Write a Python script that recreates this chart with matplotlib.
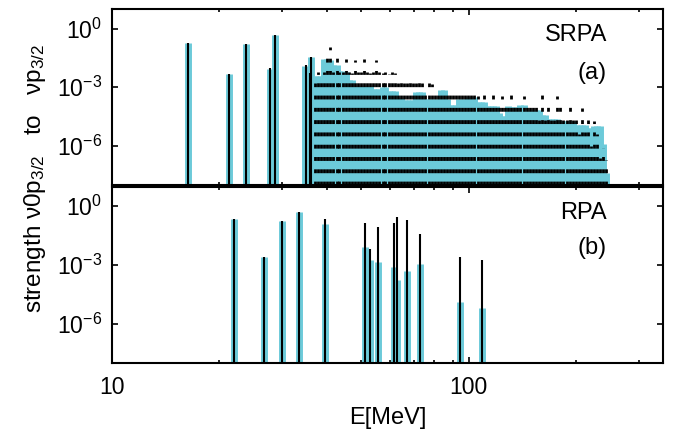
import numpy as np
import matplotlib
matplotlib.use("Agg")
import matplotlib.pyplot as plt
from matplotlib.ticker import FixedLocator, FixedFormatter, NullLocator, NullFormatter

# isolated SRPA states (a): energy [MeV], log10 strength
srpaPeakE = [16.36, 21.3, 23.8, 27.8, 28.7, 34.7, 36.2]
srpaPeakCyan = [-0.73, -2.32, -0.78, -2.05, -0.31, -1.93, -1.47]
srpaLineE = [16.36, 21.3, 23.8, 27.8, 28.7, 34.9, 35.9, 36.2]
srpaLineBlack = [-0.73, -2.32, -0.78, -2.00, -0.31, -1.84, -2.27, -1.47]

# dense SRPA continuum (a)
denseE = [37.0, 37.8, 38.5, 39.3, 40.1, 40.9, 41.7, 42.6, 43.4, 44.3,
          45.2, 46.1, 47.0, 47.9, 48.9, 49.9, 50.9, 51.9, 52.9, 54.0,
          55.0, 56.1, 57.3, 58.4, 59.6, 60.8, 62.0, 63.2, 64.5, 65.8,
          67.1, 68.4, 69.8, 71.2, 72.6, 74.1, 75.6, 77.1, 78.6, 80.2,
          81.8, 83.4, 85.1, 86.8, 88.5, 90.3, 92.1, 93.9, 95.8, 97.7,
          99.7, 101.7, 103.7, 105.8, 107.9, 110.1, 112.3, 114.5, 116.8, 119.1,
          121.5, 123.9, 126.4, 128.9, 131.5, 134.1, 136.8, 139.5, 142.3, 145.2,
          148.1, 151.0, 154.1, 157.1, 160.3, 163.5, 166.8, 170.1, 173.5, 177.0,
          180.5, 184.1, 187.8, 191.6, 195.4, 199.3, 203.3, 207.4, 211.5, 215.8,
          220.1, 224.5, 229.0, 233.6, 238.2, 243.0]
denseCyan = [-2.40, -2.40, -2.40, -1.55, -1.55, -1.60, -1.84, -1.84, -2.18, -2.18,
             -2.20, -2.61, -2.61, -2.95, -2.95, -2.93, -2.95, -2.97, -2.95, -3.08,
             -3.08, -3.08, -3.00, -3.00, -3.20, -3.20, -3.20, -3.54, -3.54, -3.63,
             -3.63, -3.63, -3.63, -3.25, -3.25, -3.25, -3.60, -3.60, -3.60, -3.60,
             -3.60, -3.12, -3.12, -3.60, -3.89, -3.89, -3.89, -3.60, -3.60, -3.60,
             -3.49, -3.49, -3.49, -3.77, -3.77, -3.77, -3.97, -3.97, -3.97, -3.97,
             -4.30, -4.45, -4.45, -3.97, -4.00, -4.00, -4.00, -3.90, -3.90, -4.14,
             -4.14, -4.14, -4.14, -4.14, -4.40, -4.40, -4.62, -4.62, -4.62, -4.62,
             -4.74, -4.74, -4.74, -4.74, -4.74, -4.91, -4.91, -4.91, -4.91, -5.08,
             -5.08, -4.96, -4.96, -4.96, -5.90, -7.40]
denseBlack = [-2.80, -2.20, -2.40, -2.20, -1.30, -0.95, -2.20, -1.50, -2.20, -2.20,
              -1.55, -2.20, -2.25, -1.60, -2.20, -2.20, -1.55, -2.20, -2.25, -2.20,
              -1.60, -2.20, -2.25, -2.20, -2.30, -2.20, -2.25, -2.80, -2.75, -2.80,
              -2.80, -2.75, -2.80, -2.80, -2.75, -2.80, -3.30, -2.80, -2.85, -3.40,
              -3.35, -3.40, -3.40, -3.35, -3.40, -3.40, -3.35, -3.40, -3.40, -3.35,
              -3.40, -3.40, -3.40, -3.45, -3.98, -3.40, -3.98, -3.90, -3.40, -3.98,
              -3.95, -3.45, -3.98, -3.98, -3.40, -3.98, -3.95, -3.98, -3.45, -3.98,
              -3.98, -3.95, -3.98, -4.70, -3.40, -4.70, -3.98, -4.65, -4.70, -3.45,
              -3.98, -4.70, -4.70, -3.98, -4.70, -4.70, -5.40, -4.05, -5.30, -4.70,
              -6.00, -4.75, -5.40, -6.60, -6.10, -6.70]

# RPA states (b)
rpaE = [21.97, 26.7, 30.0, 33.4, 39.5, 51.1, 52.8, 55.5, 61.7, 63.0, 66.9, 72.9, 94.4, 109.0]
rpaCyan = [-0.68, -2.57, -0.78, -0.31, -0.90, -2.06, -2.77, -2.87, -3.08, -3.76, -3.32, -2.97, -4.90, -5.20]
rpaBlack = [-0.68, -2.57, -0.78, -0.31, -0.66, -0.85, -2.21, -1.04, -0.87, -0.56, -0.73, -1.41, -2.57, -2.77]

yTicks = [1e0, 1e-3, 1e-6]
yTickLabels = [r"$10^{0}$", r"$10^{-3}$", r"$10^{-6}$"]
xTicks = [10, 100]
xTickLabels = ["10", "100"]
xMinor = [20, 30, 40, 50, 60, 70, 80, 90, 200, 300]

cyan = "#6ccad9"
yMin = 1e-8

plt.rcParams["font.family"] = ["Liberation Sans", "DejaVu Sans"]
plt.rcParams["mathtext.fontset"] = "custom"
plt.rcParams["mathtext.rm"] = "Liberation Sans"
plt.rcParams["mathtext.it"] = "Liberation Sans:italic"
plt.rcParams["mathtext.bf"] = "Liberation Sans:bold"
plt.rcParams["lines.scale_dashes"] = False

fig = plt.figure(figsize=(6.83, 4.40), dpi=100)
axTop = fig.add_axes([0.164, 0.5795, 0.8067, 0.400])
axBot = fig.add_axes([0.164, 0.175, 0.8067, 0.401])


def styleAxis(ax):
    ax.set_xscale("log")
    ax.set_yscale("log")
    ax.set_xlim(10, 350)
    ax.set_ylim(yMin, 10)
    ax.xaxis.set_major_locator(FixedLocator(xTicks))
    ax.xaxis.set_minor_locator(FixedLocator(xMinor))
    ax.xaxis.set_minor_formatter(NullFormatter())
    ax.yaxis.set_major_locator(FixedLocator(yTicks))
    ax.yaxis.set_major_formatter(FixedFormatter(yTickLabels))
    ax.yaxis.set_minor_locator(NullLocator())
    ax.tick_params(which="both", direction="in", top=True, right=True, width=1.2, labelsize=16.5)
    ax.tick_params(which="major", length=4.3, pad=7)
    ax.tick_params(which="minor", length=2.5)
    for sp in ax.spines.values():
        sp.set_linewidth(1.5)
        sp.set_zorder(5)


styleAxis(axTop)
styleAxis(axBot)

# panel (a)
axTop.vlines(srpaPeakE, yMin, 10 ** np.array(srpaPeakCyan), color=cyan, linewidth=5, zorder=2)
axTop.vlines(denseE, yMin, 10 ** np.array(denseCyan), color=cyan, linewidth=5, zorder=2)
axTop.vlines(denseE, yMin, 10 ** np.array(denseBlack), color="black", linewidth=2.0,
             linestyles=[(0, (2.8, 6.05))], zorder=3)
axTop.vlines(srpaLineE, yMin, 10 ** np.array(srpaLineBlack), color="black", linewidth=1.5, zorder=3)
axTop.xaxis.set_major_formatter(NullFormatter())
axTop.text(0.898, 0.852, "SRPA", transform=axTop.transAxes, ha="right", va="center", fontsize=17)
axTop.text(0.898, 0.636, "(a)", transform=axTop.transAxes, ha="right", va="center", fontsize=17)

# panel (b)
axBot.vlines(rpaE, yMin, 10 ** np.array(rpaCyan), color=cyan, linewidth=5, zorder=2)
axBot.vlines(rpaE, yMin, 10 ** np.array(rpaBlack), color="black", linewidth=1.5, zorder=3)
axBot.xaxis.set_major_formatter(FixedFormatter(xTickLabels))
axBot.tick_params(axis="x", which="major", pad=9)
axBot.text(0.898, 0.85, "RPA", transform=axBot.transAxes, ha="right", va="center", fontsize=17)
axBot.text(0.898, 0.652, "(b)", transform=axBot.transAxes, ha="right", va="center", fontsize=17)
axBot.set_xlabel("E[MeV]", fontsize=17, labelpad=6)

fig.text(0.051, 0.595, r"strength ν0p$_{3/2}$   to   νp$_{3/2}$", rotation=90,
         ha="center", va="center", fontsize=17.5)

fig.savefig("out.png", dpi=100)
